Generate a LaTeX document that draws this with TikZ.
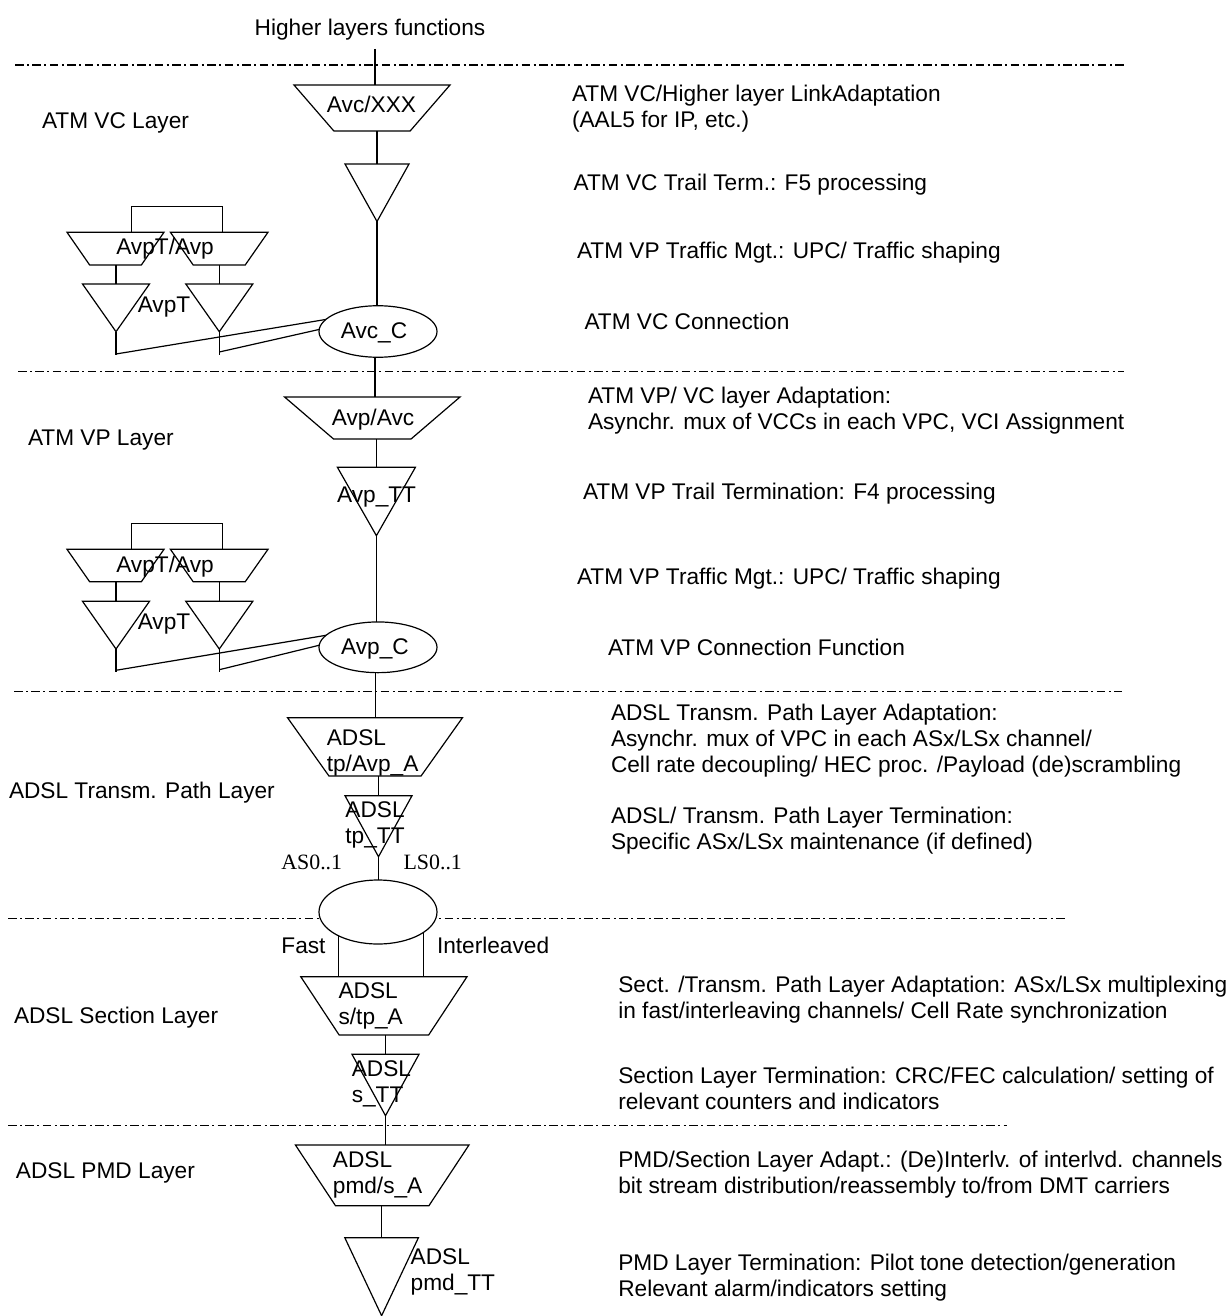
\documentclass[tikz,border=0pt]{standalone}
\usepackage{fontspec}
\setmainfont{Liberation Sans}
\newfontfamily\timesfam{Liberation Serif}
\usetikzlibrary{shapes.geometric}
\newcommand{\emptybody}{\vrule width 1pt height 1pt depth 0pt\relax}
\tikzset{
  x=0.75pt, y=-0.75pt,
  conn/.style={line width=0.9pt, line cap=butt, line join=miter},
  layerline/.style={line width=0.9pt, dash pattern=on 6.4pt off 2.6pt on 1.5pt off 2.6pt},
  trapbox/.style n args={3}{trapezium, draw, conn, trapezium stretches=true, shape border rotate=180,
    minimum width=#1*0.75pt, minimum height=#2*0.75pt, trapezium angle=#3, inner sep=0pt, outer sep=0pt, text opacity=0},
  tribox/.style n args={2}{isosceles triangle, draw, conn, isosceles triangle stretches=true, shape border rotate=-90,
    minimum width=#1*0.75pt, minimum height=#2*0.75pt, inner sep=0pt, outer sep=0pt, anchor=apex, text opacity=0},
  connbox/.style n args={2}{ellipse, draw, conn, fill=white, minimum width=#1*0.75pt, minimum height=#2*0.75pt, inner sep=0pt, outer sep=0pt},
  lbl/.style={font=\fontsize{17}{19.5}\selectfont, inner sep=0pt, outer sep=0pt, text height=12.2pt, text depth=0pt, anchor=west},
  lblc/.style={lbl, anchor=center},
  para/.style={font=\fontsize{17}{19.5}\selectfont, inner sep=0pt, outer sep=0pt, align=left, anchor=north west},
  serif/.style={font=\timesfam\fontsize{16.4}{19}\selectfont, inner sep=0pt, outer sep=0pt, text height=11pt, text depth=0pt, anchor=west},
}
\begin{document}
\begin{tikzpicture}
\useasboundingbox (0,0) rectangle (1227,1316);
% layer separators
\coordinate (d1a) at (15,65);     \coordinate (d1b) at (1127,65);
\coordinate (d2a) at (18,371.7);  \coordinate (d2b) at (1124,371.7);
\coordinate (d3a) at (14,691.7);  \coordinate (d3b) at (1122,691.7);
\coordinate (d4a) at (8,918.7);   \coordinate (d4b) at (1065.5,918.7);
\coordinate (d5a) at (8,1125.7);  \coordinate (d5b) at (1006.8,1125.7);
\draw[layerline] (d1a) -- (d1b);
\draw[layerline] (d2a) -- (d2b);
\draw[layerline] (d3a) -- (d3b);
\draw[layerline] (d4a) -- (d4b);
\draw[layerline] (d5a) -- (d5b);

% main column shapes
\node[trapbox={156}{46}{62.4}] (t1) at (372,108) {\emptybody};
\node[tribox={64}{57.5}] (v1) at (377,221.5) {\emptybody};
\node[connbox={118}{51.5}] (e1) at (378,331.5) {};
\node[trapbox={175.4}{42}{57.7}] (t2) at (372.3,418) {\emptybody};
\node[tribox={78}{68.4}] (v2) at (376.4,535.7) {\emptybody};
\node[connbox={118}{50.7}] (e2) at (378,647.3) {};
\node[trapbox={175}{58.3}{65.8}] (t3) at (375,746.8) {\emptybody};
\node[tribox={67}{61}] (v3) at (378.5,856.7) {\emptybody};
\node[trapbox={166.3}{58.3}{66.8}] (t4) at (383.9,1005.8) {\emptybody};
\node[tribox={67}{61.4}] (v4) at (385.5,1115.7) {\emptybody};
\node[trapbox={173.6}{60.7}{66.8}] (t5) at (382.2,1175.3) {\emptybody};
\node[tribox={73.6}{78}] (v5) at (381.6,1315.7) {\emptybody};

% VC side group
\node[trapbox={97}{32.7}{66.4}] (al) at (115.5,248.6) {\emptybody};
\node[trapbox={97.6}{32.7}{66.4}] (ar) at (219.2,248.6) {\emptybody};
\node[tribox={67}{47.7}] (al2) at (116,331.7) {\emptybody};
\node[tribox={67}{47.7}] (ar2) at (219.3,331.7) {\emptybody};
% VP side group
\node[trapbox={97}{32.4}{66.4}] (bl) at (115.5,565.5) {\emptybody};
\node[trapbox={97.6}{32.4}{66.4}] (br) at (219.2,565.5) {\emptybody};
\node[tribox={67}{47.7}] (bl2) at (116,649) {\emptybody};
\node[tribox={67}{47.7}] (br2) at (219.3,649) {\emptybody};

% connectors, main column
\coordinate (topend) at (375,49);
\draw[conn] (topend) -- (topend |- t1.north);
\draw[conn] (v1.lower side |- t1.south) -- (v1.lower side);
\draw[conn] (v1.apex) -- (v1.apex |- e1.north);
\coordinate (x1) at (375,357);
\draw[conn] (x1 |- e1.south) -- (x1 |- t2.north);
\draw[conn] (v2.lower side |- t2.south) -- (v2.lower side);
\draw[conn] (v2.apex) -- (v2.apex |- e2.north);
\coordinate (x2) at (375.7,672.7);
\draw[conn] (x2 |- e2.south) -- (x2 |- t3.north);
\draw[conn] (v3.lower side |- t3.south) -- (v3.lower side);
\coordinate (fx) at (338.6,935.8);
\coordinate (ix) at (423.2,932.6);
\draw[conn] (fx) -- (fx |- t4.north);
\draw[conn] (ix) -- (ix |- t4.north);
\node[connbox={118}{64}] (e3) at (378,912) {};
\draw[conn] (v3.apex) -- (v3.apex |- e3.north);
\draw[conn] (v4.lower side |- t4.south) -- (v4.lower side);
\draw[conn] (v4.apex) -- (v4.apex |- t5.north);
\draw[conn] (v5.lower side |- t5.south) -- (v5.lower side);

% connectors, VC group
\coordinate (abl) at (131.8,206.7);
\coordinate (abr) at (222.5,206.7);
\draw[conn] (abl |- al.north) -- (abl) -- (abr) -- (abr |- ar.north);
\draw[conn] (al2.lower side |- al.south) -- (al2.lower side);
\draw[conn] (ar2.lower side |- ar.south) -- (ar2.lower side);
\coordinate (asl) at (116,355.3);
\coordinate (asr) at (219.3,355.3);
\coordinate (akl) at (116,354);
\coordinate (akr) at (219.3,352);
\draw[conn] (al2.apex) -- (asl);
\draw[conn] (ar2.apex) -- (asr);
\draw[conn] (akl) -- (e1.167.5);
\draw[conn] (akr) -- (e1.178.5);
% connectors, VP group
\coordinate (bbl) at (131.8,523.3);
\coordinate (bbr) at (222.5,523.3);
\draw[conn] (bbl |- bl.north) -- (bbl) -- (bbr) -- (bbr |- br.north);
\draw[conn] (bl2.lower side |- bl.south) -- (bl2.lower side);
\draw[conn] (br2.lower side |- br.south) -- (br2.lower side);
\coordinate (bsl) at (116,672);
\coordinate (bsr) at (219.3,672);
\coordinate (bkl) at (116,670.3);
\coordinate (bkr) at (219.3,669.7);
\draw[conn] (bl2.apex) -- (bsl);
\draw[conn] (br2.apex) -- (bsr);
\draw[conn] (bkl) -- (e2.167.5);
\draw[conn] (bkr) -- (e2.178.5);

% shape texts
\node[lblc] (lhi) at (370,27.5) {Higher layers functions};
\node[lblc] (lt1) at (371.5,104.5) {Avc/XXX};
\node[lblc] (lal) at (165,246.7) {AvpT/Avp};
\node[lblc] (lal2) at (164,304) {AvpT};
\node[lblc] (le1) at (374,330.7) {Avc\_C};
\node[lblc] (lt2) at (373,417) {Avp/Avc};
\node[lblc] (lv2) at (376.6,494) {Avp\_TT};
\node[lblc] (lbl1) at (165,564) {AvpT/Avp};
\node[lblc] (lbl2) at (164,621.3) {AvpT};
\node[lblc] (le2) at (375,646) {Avp\_C};
\node[para] (lt3) at (326.8,727.7) {\strut ADSL\\\strut tp/Avp\_A};
\node[para] (lv3) at (345.4,799.3) {\strut ADSL\\\strut tp\_TT};
\node[serif] (las) at (281.4,862.3) {AS0..1};
\node[serif] (lls) at (403.6,862.3) {LS0..1};
\node[lbl] (lfa) at (281.4,945) {Fast};
\node[lbl] (lin) at (437,945) {Interleaved};
\node[para] (lt4) at (338.6,980) {\strut ADSL\\\strut s/tp\_A};
\node[para] (lv4) at (351.8,1058.3) {\strut ADSL\\\strut s\_TT};
\node[para] (lt5) at (332.9,1149.3) {\strut ADSL\\\strut pmd/s\_A};
\node[para] (lv5) at (410.7,1246.7) {\strut ADSL\\\strut pmd\_TT};

% layer names
\node[lbl] (n1) at (42,120) {ATM VC Layer};
\node[lbl] (n2) at (28,437) {ATM VP Layer};
\node[lbl] (n3) at (9,790.7) {ADSL Transm. Path Layer};
\node[lbl] (n4) at (14,1015.7) {ADSL Section Layer};
\node[lbl] (n5) at (16,1170.7) {ADSL PMD Layer};

% descriptions
\node[para] (r1) at (572,83) {\strut ATM VC/Higher layer LinkAdaptation\\\strut (AAL5 for IP, etc.)};
\node[lbl] (r2) at (573.6,182) {ATM VC Trail Term.: F5 processing};
\node[lbl] (r3) at (577,250) {ATM VP Traffic Mgt.: UPC/ Traffic shaping};
\node[lbl] (r4) at (584.5,321) {ATM VC Connection};
\node[para] (r5) at (588,385) {\strut ATM VP/ VC layer Adaptation:\\\strut Asynchr. mux of VCCs in each VPC, VCI Assignment};
\node[lbl] (r6) at (583,491.7) {ATM VP Trail Termination: F4 processing};
\node[lbl] (r7) at (577,576) {ATM VP Traffic Mgt.: UPC/ Traffic shaping};
\node[lbl] (r8) at (608,647) {ATM VP Connection Function};
\node[para] (r9) at (611,702) {\strut ADSL Transm. Path Layer Adaptation:\\\strut Asynchr. mux of VPC in each ASx/LSx channel/\\\strut Cell rate decoupling/ HEC proc. /Payload (de)scrambling};
\node[para] (r10) at (611,805) {\strut ADSL/ Transm. Path Layer Termination:\\\strut Specific ASx/LSx maintenance (if defined)};
\node[para] (r11) at (618.3,974) {\strut Sect. /Transm. Path Layer Adaptation: ASx/LSx multiplexing\\\strut in fast/interleaving channels/ Cell Rate synchronization};
\node[para] (r12) at (618.3,1065) {\strut Section Layer Termination: CRC/FEC calculation/ setting of\\\strut relevant counters and indicators};
\node[para] (r13) at (618.3,1149.3) {\strut PMD/Section Layer Adapt.: (De)Interlv. of interlvd. channels\\\strut bit stream distribution/reassembly to/from DMT carriers};
\node[para] (r14) at (618.3,1252.3) {\strut PMD Layer Termination: Pilot tone detection/generation\\\strut Relevant alarm/indicators setting};
\end{tikzpicture}
\end{document}
